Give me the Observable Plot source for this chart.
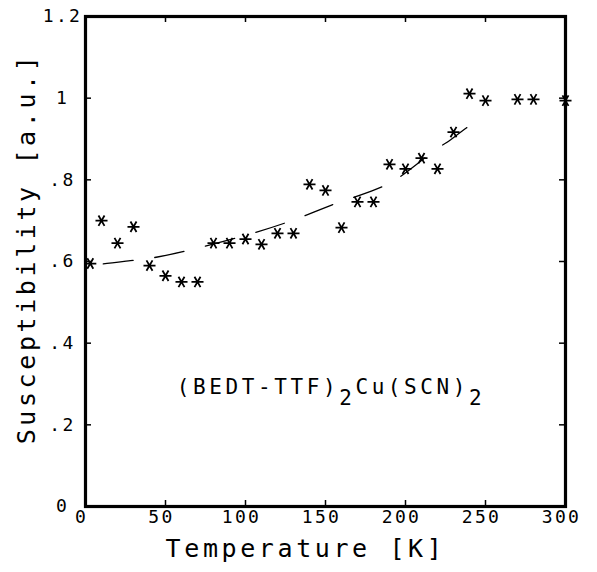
<!DOCTYPE html>
<html>
<head>
<meta charset="utf-8">
<script src="https://cdn.jsdelivr.net/npm/d3@7"></script>
<script src="https://cdn.jsdelivr.net/npm/@observablehq/plot@0.6"></script>
<style>
  html, body { margin: 0; padding: 0; background: #fff; }
  #chart svg { display: block; }
</style>
</head>
<body>
<div id="chart"></div>
<script>
// Measured data: temperature [K] and susceptibility [a.u.]
const temperature = [3, 10, 20, 30, 40, 50, 60, 70, 80, 90, 100, 110, 120, 130, 140, 150, 160, 170, 180, 190, 200, 210, 220, 230, 240, 250, 270, 280, 300];
const susceptibility = [0.595, 0.70, 0.645, 0.685, 0.59, 0.565, 0.55, 0.55, 0.645, 0.645, 0.655, 0.642, 0.669, 0.669, 0.789, 0.774, 0.683, 0.746, 0.746, 0.838, 0.827, 0.853, 0.827, 0.917, 1.011, 0.994, 0.997, 0.997, 0.994];

// Dashed guide curve
const fitTemperature = [3, 11, 28, 45, 70, 107, 131, 153, 181, 193, 221, 226, 238, 249];
const fitSusceptibility = [0.592, 0.594, 0.602, 0.611, 0.633, 0.672, 0.703, 0.737, 0.776, 0.798, 0.880, 0.892, 0.927, 0.955];

// Axis ticks and labels
const xTicks = [0, 50, 100, 150, 200, 250, 300];
const xTickLabels = ["0", "50", "100", "150", "200", "250", "300"];
const yTicks = [0, 0.2, 0.4, 0.6, 0.8, 1.0, 1.2];
const yTickLabels = ["0", ".2", ".4", ".6", ".8", "1", "1.2"];

const xTitle = "Temperature [K]";
const yTitle = "Susceptibility [a.u.]";
// Compound label: parts, with subscripts flagged
const compoundParts = ["(BEDT-TTF)", "2", "Cu(SCN)", "2"];
const compoundSub = [false, true, false, true];
const compoundPos = {x: 57, y: 0.292};

const points = temperature.map((t, i) => ({t, v: susceptibility[i]}));
const fit = fitTemperature.map((t, i) => ({t, v: fitSusceptibility[i]}));
const xLab = xTicks.map((t, i) => ({t, s: xTickLabels[i]}));
const yLab = yTicks.map((v, i) => ({v, s: yTickLabels[i]}));
const compoundText = compoundParts.join("");

const font = "DejaVu Sans Mono";

const plot = Plot.plot({
  width: 597,
  height: 572,
  marginLeft: 85,
  marginRight: 32,
  marginTop: 16,
  marginBottom: 66,
  style: {fontFamily: font, color: "black", background: "white"},
  x: {domain: [0, 300], axis: null},
  y: {domain: [0, 1.2], axis: null},
  marks: [
    Plot.line(fit, {x: "t", y: "v", curve: "catmull-rom", stroke: "black", strokeWidth: 1.3,
      strokeDasharray: "30,22", strokeDashoffset: 39}),
    Plot.dot(points, {x: "t", y: "v", symbol: "asterisk", r: 5.7, rotate: 90, stroke: "black", strokeWidth: 1.8}),
    // inward ticks on all four sides
    Plot.tickX(xTicks, {x: d => d, insetTop: 484, stroke: "black", strokeWidth: 1.5}),
    Plot.tickX(xTicks, {x: d => d, insetBottom: 484, stroke: "black", strokeWidth: 1.5}),
    Plot.tickY(yTicks, {y: d => d, insetRight: 474, stroke: "black", strokeWidth: 1.5}),
    Plot.tickY(yTicks, {y: d => d, insetLeft: 474, stroke: "black", strokeWidth: 1.5}),
    Plot.frame({stroke: "black", strokeWidth: 3.2}),
    // tick labels
    Plot.text(xLab, {x: "t", text: "s", frameAnchor: "bottom", dy: 16, dx: -4, fontSize: 18, fill: "black"}),
    Plot.text(yLab, {y: "v", text: "s", frameAnchor: "left", dx: -23, fontSize: 18, textAnchor: "middle", fill: "black"}),
    // axis titles
    Plot.text([xTitle], {text: d => d, frameAnchor: "bottom", textAnchor: "middle", dx: -20, dy: 50, fontSize: 25, fill: "black"}),
    Plot.text([yTitle], {text: d => d, frameAnchor: "left", textAnchor: "middle", rotate: -90, dx: -59, dy: -13, fontSize: 25, fill: "black"}),
    // compound annotation
    Plot.text([compoundText], {x: () => compoundPos.x, y: () => compoundPos.y, text: d => d, textAnchor: "start", fontSize: 21, fill: "black"})
  ]
});

// letter spacing for the plotter-like lettering
plot.querySelectorAll("text").forEach(el => {
  const txt = el.textContent;
  if (txt === xTitle || txt === yTitle) el.style.letterSpacing = "3.6px";
  else if (txt === compoundText) {
    el.style.letterSpacing = "3.6px";
    el.textContent = "";
    const ns = "http://www.w3.org/2000/svg";
    compoundParts.forEach((p, i) => {
      const ts = document.createElementNS(ns, "tspan");
      ts.textContent = p;
      if (compoundSub[i]) ts.setAttribute("dy", "11");
      else if (i > 0 && compoundSub[i - 1]) ts.setAttribute("dy", "-11");
      el.appendChild(ts);
    });
  } else if (yTickLabels.includes(txt) || xTickLabels.includes(txt)) {
    el.style.letterSpacing = "2.4px";
  }
});

document.getElementById("chart").appendChild(plot);
</script>
</body>
</html>
